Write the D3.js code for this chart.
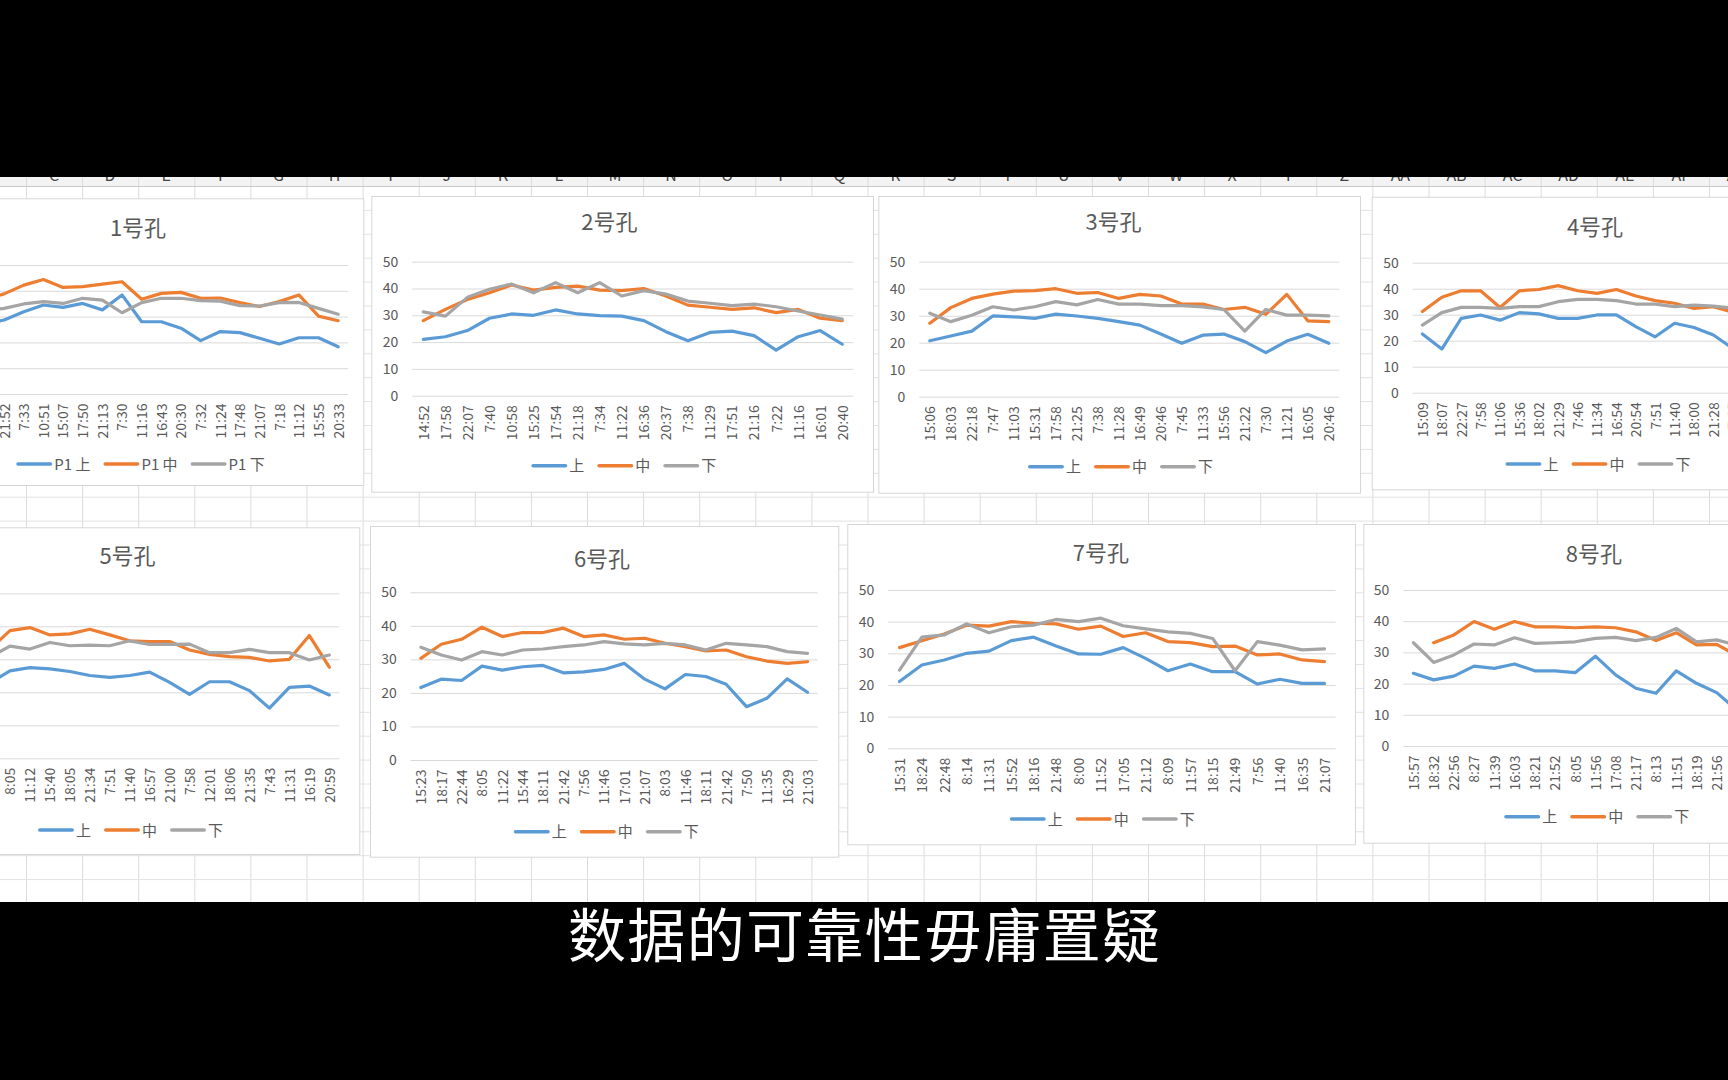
<!DOCTYPE html>
<html><head><meta charset="utf-8">
<script src="https://cdn.jsdelivr.net/npm/d3@7"></script>
<style>body{margin:0;background:#000;overflow:hidden} svg{display:block}</style>
</head><body>
<svg id="s" width="1728" height="1080"></svg>
<script>
// ---------------- DATA ----------------
const yTicks = [0, 10, 20, 30, 40, 50];
const seriesNames = ["上", "中", "下"];
const seriesNames1 = ["P1 上", "P1 中", "P1 下"];
const titles = ["1号孔", "2号孔", "3号孔", "4号孔", "5号孔", "6号孔", "7号孔", "8号孔"];
const subtitle = "数据的可靠性毋庸置疑";

const cats1 = ["15:02","18:10","21:52","7:33","10:51","15:07","17:50","21:13","7:30","11:16","16:43","20:30","7:32","11:24","17:48","21:07","7:18","11:12","15:55","20:33"];
const up1  = [24, 27, 28.7, 31.9, 34.5, 33.6, 35.1, 32.6, 38.4, 28, 28, 25.5, 20.7, 24.2, 23.8, 21.6, 19.4, 21.8, 21.8, 18.3];
const mid1 = [34, 36.5, 38.8, 42.2, 44.4, 41.3, 41.6, 42.6, 43.5, 36.7, 39, 39.4, 37.1, 37.2, 35.4, 33.9, 35.8, 38.4, 30.2, 28.4];
const low1 = [30, 32, 33.2, 34.9, 35.8, 35.1, 37.1, 36.4, 31.5, 35.4, 37.1, 37.1, 36.2, 36.0, 34.2, 34.1, 35.4, 35.5, 33.2, 30.9];

const cats2 = ["14:52","17:58","22:07","7:40","10:58","15:25","17:54","21:18","7:34","11:22","16:36","20:37","7:38","11:29","17:51","21:16","7:22","11:16","16:01","20:40"];
const up2  = [21.0, 22.0, 24.3, 28.9, 30.5, 30.0, 32.0, 30.5, 29.9, 29.7, 28.0, 23.9, 20.5, 23.6, 24.1, 22.4, 17.0, 22.0, 24.3, 19.2];
const mid2 = [28.0, 32.2, 35.9, 38.4, 41.3, 39.4, 40.4, 40.9, 39.4, 39.2, 40.0, 37.2, 33.8, 33.0, 32.2, 32.8, 31.0, 32.2, 28.9, 28.0];
const low2 = [31.3, 29.7, 36.7, 39.7, 41.7, 38.4, 42.2, 38.4, 42.2, 37.2, 39.2, 37.9, 35.3, 34.5, 33.6, 34.2, 33.2, 31.6, 30.1, 28.6];

const cats3 = ["15:06","18:03","22:18","7:47","11:03","15:31","17:58","21:25","7:38","11:28","16:49","20:46","7:45","11:33","15:56","21:22","7:30","11:21","16:05","20:46"];
const up3  = [20.7, 22.5, 24.3, 29.9, 29.6, 29.0, 30.6, 29.9, 29.0, 27.8, 26.5, 23.2, 19.8, 22.8, 23.2, 20.4, 16.3, 20.6, 23.1, 19.8];
const mid3 = [27.2, 33.0, 36.4, 38.0, 39.1, 39.3, 40.0, 38.3, 38.6, 36.4, 37.9, 37.3, 34.3, 34.3, 32.3, 33.1, 30.5, 37.9, 28.1, 27.8];
const low3 = [30.9, 27.8, 30.2, 33.3, 32.1, 33.3, 35.2, 34.0, 36.0, 34.3, 34.3, 33.7, 33.7, 33.3, 32.3, 24.3, 32.3, 30.2, 30.2, 29.9];

const cats4 = ["15:09","18:07","22:27","7:58","11:06","15:36","18:02","21:29","7:46","11:34","16:54","20:54","7:51","11:40","18:00","21:28","7:35","11:30","16:20","20:45"];
const up4  = [22.6, 16.8, 28.6, 29.9, 27.9, 30.8, 30.3, 28.6, 28.6, 29.9, 29.9, 25.4, 21.5, 26.7, 25.1, 22.2, 17, 20, 22, 19];
const mid4 = [31.2, 36.7, 39.2, 39.2, 32.8, 39.2, 39.7, 41.2, 39.2, 38.2, 39.7, 37.2, 35.4, 34.4, 32.4, 33.1, 31, 32, 31, 30];
const low4 = [26.0, 30.8, 32.8, 32.8, 32.4, 33.1, 33.1, 35.0, 35.9, 35.9, 35.4, 34.1, 34.1, 33.1, 33.7, 33.3, 32.5, 32, 31, 30];

const cats5 = ["15:12","18:20","22:40","8:05","11:12","15:40","18:05","21:34","7:51","11:40","16:57","21:00","7:58","12:01","18:06","21:35","7:43","11:31","16:19","20:59"];
const up5  = [20, 21.5, 22.9, 26.5, 27.5, 27.1, 26.3, 25.1, 24.5, 25.1, 26.1, 23.0, 19.4, 23.2, 23.2, 20.5, 15.2, 21.5, 21.9, 19.2];
const mid5 = [30, 31.5, 33.1, 38.7, 39.6, 37.4, 37.7, 39.1, 37.4, 35.6, 35.4, 35.4, 32.8, 31.5, 30.8, 30.6, 29.5, 30.0, 37.2, 27.6];
const low5 = [28, 29.5, 30.6, 34.0, 33.1, 35.1, 34.1, 34.3, 34.1, 35.6, 34.5, 34.5, 34.6, 32.0, 32.0, 33.0, 32.0, 32.0, 29.8, 31.3];

const cats6 = ["15:23","18:17","22:44","8:05","11:22","15:44","18:11","21:42","7:56","11:46","17:01","21:07","8:03","11:46","18:11","21:42","7:50","11:35","16:29","21:03"];
const up6  = [21.6, 24.1, 23.7, 28.0, 26.8, 27.8, 28.2, 26.0, 26.3, 27.0, 28.8, 24.1, 21.2, 25.5, 24.9, 22.6, 15.9, 18.4, 24.2, 20.2];
const mid6 = [30.3, 34.5, 36.0, 39.6, 36.8, 38.0, 38.0, 39.3, 36.8, 37.3, 36.0, 36.3, 34.8, 33.8, 32.5, 32.8, 30.8, 29.5, 28.8, 29.3];
const low6 = [33.6, 31.3, 29.8, 32.3, 31.3, 32.8, 33.1, 33.8, 34.3, 35.3, 34.6, 34.3, 34.8, 34.3, 32.8, 34.8, 34.3, 33.8, 32.3, 31.8];

const cats7 = ["15:31","18:24","22:48","8:14","11:31","15:52","18:16","21:48","8:00","11:52","17:05","21:12","8:09","11:57","18:15","21:49","7:56","11:40","16:35","21:07"];
const up7  = [21.1, 26.3, 27.9, 30.0, 30.7, 34.0, 35.1, 32.3, 29.8, 29.7, 31.8, 28.4, 24.5, 26.6, 24.2, 24.2, 20.3, 21.8, 20.5, 20.5];
const mid7 = [31.8, 34.0, 36.1, 38.9, 38.6, 40.0, 39.5, 39.3, 37.6, 38.6, 35.3, 36.5, 33.7, 33.4, 32.1, 32.3, 29.5, 29.8, 27.9, 27.4];
const low7 = [24.7, 35.1, 35.8, 39.3, 36.5, 38.4, 38.9, 40.7, 40.0, 41.1, 38.7, 37.7, 36.8, 36.3, 34.7, 24.5, 33.7, 32.6, 31.1, 31.4];

const cats8 = ["15:57","18:32","22:56","8:27","11:39","16:03","18:21","21:52","8:05","11:56","17:08","21:17","8:13","11:51","18:19","21:56","7:48","11:45","16:30","21:05"];
const up8  = [23.3, 21.2, 22.4, 25.6, 24.9, 26.3, 24.1, 24.1, 23.5, 28.8, 22.8, 18.5, 16.9, 24.1, 20.1, 17.1, 11.5, 15, 16.5, 14];
const mid8 = [null, 33.1, 35.6, 39.9, 37.4, 39.9, 38.2, 38.2, 37.9, 38.2, 37.9, 36.6, 33.8, 36.3, 32.4, 32.6, 29, 30, 29, 28];
const low8 = [33.1, 26.8, 29.2, 32.7, 32.4, 34.7, 32.9, 33.1, 33.4, 34.5, 34.8, 33.8, 34.8, 37.7, 33.4, 34.0, 32.3, 32, 31, 30];

const allCats = [cats1, cats2, cats3, cats4, cats5, cats6, cats7, cats8];
const allSeries = [[up1, mid1, low1], [up2, mid2, low2], [up3, mid3, low3], [up4, mid4, low4],
                   [up5, mid5, low5], [up6, mid6, low6], [up7, mid7, low7], [up8, mid8, low8]];
const allNames = [seriesNames1, seriesNames, seriesNames, seriesNames, seriesNames, seriesNames, seriesNames, seriesNames];

// ---------------- LAYOUT / STYLE ----------------
const colors = ["#5B9BD5", "#ED7D31", "#A5A5A5"];
const FONT = "'Noto Sans CJK SC','Noto Sans',sans-serif";
const layouts = [
  {bx:-86,   by:198.3, bw:449.3, bh:286.7, pl:-45,    pr:348,    y0:394,   y50:265,   tx:138,    ty:229,   lx:140.5,  ly:464},
  {bx:371.3, by:196,   bw:501.7, bh:295.7, pl:412.3,  pr:853.3,  y0:395.7, y50:261.7, tx:609.3,  ty:222.7, lx:623.8,  ly:465.7},
  {bx:878.3, by:196,   bw:481.7, bh:296.7, pl:919.3,  pr:1339.3, y0:396.7, y50:261.7, tx:1113.5, ty:222.7, lx:1120.5, ly:466.7},
  {bx:1371.7,by:196.7, bw:448.3, bh:292.6, pl:1412.7, pr:1800.7, y0:392.7, y50:262.7, tx:1595,   ty:228.3, lx:1598,   ly:464},
  {bx:-101,  by:527.3, bw:460.3, bh:326.7, pl:-59.9,  pr:339.3,  y0:758.3, y50:593.3, tx:127.5,  ty:557.3, lx:130.5,  ly:830},
  {bx:370,   by:526,   bw:468.3, bh:330.7, pl:410.7,  pr:817.7,  y0:760,   y50:592.3, tx:602,    ty:560,   lx:606.3,  ly:831.7},
  {bx:847.3, by:524,   bw:507.7, bh:320.3, pl:888.3,  pr:1335.7, y0:748.3, y50:590,   tx:1100.8, ty:554,   lx:1102.3, ly:819},
  {bx:1363.3,by:524,   bw:464.7, bh:318.7, pl:1403.3, pr:1807.7, y0:746,   y50:590,   tx:1593.8, ty:555,   lx:1596.7, ly:816.7}
];

const svg = d3.select("#s");

// ---------------- SPREADSHEET BACKGROUND ----------------
svg.append("rect").attr("x",0).attr("y",0).attr("width",1728).attr("height",1080).attr("fill","#000");
svg.append("rect").attr("x",0).attr("y",170).attr("width",1728).attr("height",732).attr("fill","#fff");
svg.append("rect").attr("x",0).attr("y",170).attr("width",1728).attr("height",16).attr("fill","#f3f3f3");

function colName(n){ const A="ABCDEFGHIJKLMNOPQRSTUVWXYZ"; return n<26 ? A[n] : A[Math.floor(n/26)-1]+A[n%26]; }
const colIdx = d3.range(0, 31);
svg.append("g").selectAll("text").data(colIdx).join("text")
  .attr("x", k => 54 + 56.1*k).attr("y", 181).attr("text-anchor","middle")
  .attr("font-family", FONT).attr("font-size", 16).attr("fill","#444")
  .text(k => colName(k+2));

const grid = svg.append("g").attr("stroke","#dcdcdc").attr("stroke-width",1);
grid.selectAll("line.v").data(d3.range(0, 31)).join("line").attr("class","v")
  .attr("x1", k => 26 + 56.1*k + 0.5).attr("x2", k => 26 + 56.1*k + 0.5)
  .attr("y1", 170).attr("y2", 902);
grid.selectAll("line.h").data(d3.range(0, 31).filter(j => 186 + 23.9*j < 902)).join("line").attr("class","h")
  .attr("x1", 0).attr("x2", 1728)
  .attr("y1", j => 186 + 23.9*j + 0.5).attr("y2", j => 186 + 23.9*j + 0.5)
  .attr("stroke", j => j === 0 ? "#c8c8c8" : "#e2e2e2");

// black bands (cover top part of header)
svg.append("rect").attr("x",0).attr("y",0).attr("width",1728).attr("height",177).attr("fill","#000");
svg.append("rect").attr("x",0).attr("y",902).attr("width",1728).attr("height",178).attr("fill","#000");

// ---------------- CHARTS ----------------
function drawChart(ci){
  const L = layouts[ci], cats = allCats[ci], series = allSeries[ci], names = allNames[ci];
  const g = svg.append("g");
  g.append("rect").attr("x",L.bx+0.5).attr("y",L.by+0.5).attr("width",L.bw).attr("height",L.bh)
    .attr("fill","#fff").attr("stroke","#d6d6d6");

  const x = d3.scalePoint().domain(d3.range(cats.length)).range([L.pl, L.pr]).padding(0.5);
  const y = d3.scaleLinear().domain([0, 50]).range([L.y0, L.y50]);

  const ya = g.append("g").attr("transform", `translate(${L.pl},0)`)
    .call(d3.axisLeft(y).tickValues(yTicks).tickSize(-(L.pr - L.pl)).tickPadding(14));
  ya.select(".domain").remove();
  ya.selectAll("line").attr("stroke","#d9d9d9");
  ya.selectAll("text").attr("fill","#595959").attr("font-family",FONT).attr("font-size",14);

  const xa = g.append("g").attr("transform", `translate(0,${L.y0})`)
    .call(d3.axisBottom(x).tickSize(0).tickFormat(i => cats[i]));
  xa.select(".domain").remove();
  xa.selectAll("text").attr("y",0).attr("x",-9.5).attr("dy","0.35em")
    .attr("transform","rotate(-90)").attr("text-anchor","end")
    .attr("fill","#595959").attr("font-family",FONT).attr("font-size",14);

  const line = d3.line().defined(d => d != null).x((d,i) => x(i)).y(d => y(d));
  series.forEach((s, si) => {
    g.append("path").datum(s).attr("d", line).attr("fill","none")
      .attr("stroke", colors[si]).attr("stroke-width", 3.2)
      .attr("stroke-linejoin","round").attr("stroke-linecap","round");
  });

  g.append("text").attr("x", L.tx).attr("y", L.ty - 3).attr("text-anchor","middle")
    .attr("dominant-baseline","central").attr("font-family",FONT).attr("font-size",22)
    .attr("fill","#595959").text(titles[ci]);

  // legend
  const lg = g.append("g");
  const items = names.map((n, si) => {
    const it = lg.append("g");
    it.append("line").attr("stroke", colors[si]).attr("stroke-width",3.6).attr("stroke-linecap","round");
    const t = it.append("text").attr("font-family",FONT).attr("font-size",15).attr("fill","#595959")
      .attr("dominant-baseline","central").text(n);
    return {it, t, w: t.node().getComputedTextLength()};
  });
  const lineLen = 36, gap = 2, spacing = 13;
  const total = d3.sum(items, d => lineLen + gap + d.w) + spacing*(items.length-1);
  let cx = L.lx - total/2;
  items.forEach(d => {
    d.it.select("line").attr("x1", cx + 1.8).attr("x2", cx + lineLen - 1.8).attr("y1", L.ly).attr("y2", L.ly);
    d.t.attr("x", cx + lineLen + gap).attr("y", L.ly - 1);
    cx += lineLen + gap + d.w + spacing;
  });
}
d3.range(8).forEach(drawChart);

// ---------------- SUBTITLE ----------------
svg.append("text").attr("x", 864).attr("y", 957).attr("text-anchor","middle")
  .attr("font-family", FONT).attr("font-size", 58).attr("fill","#fff")
  .attr("textLength", 592).attr("lengthAdjust","spacing")
  .text(subtitle);
</script>
</body></html>
